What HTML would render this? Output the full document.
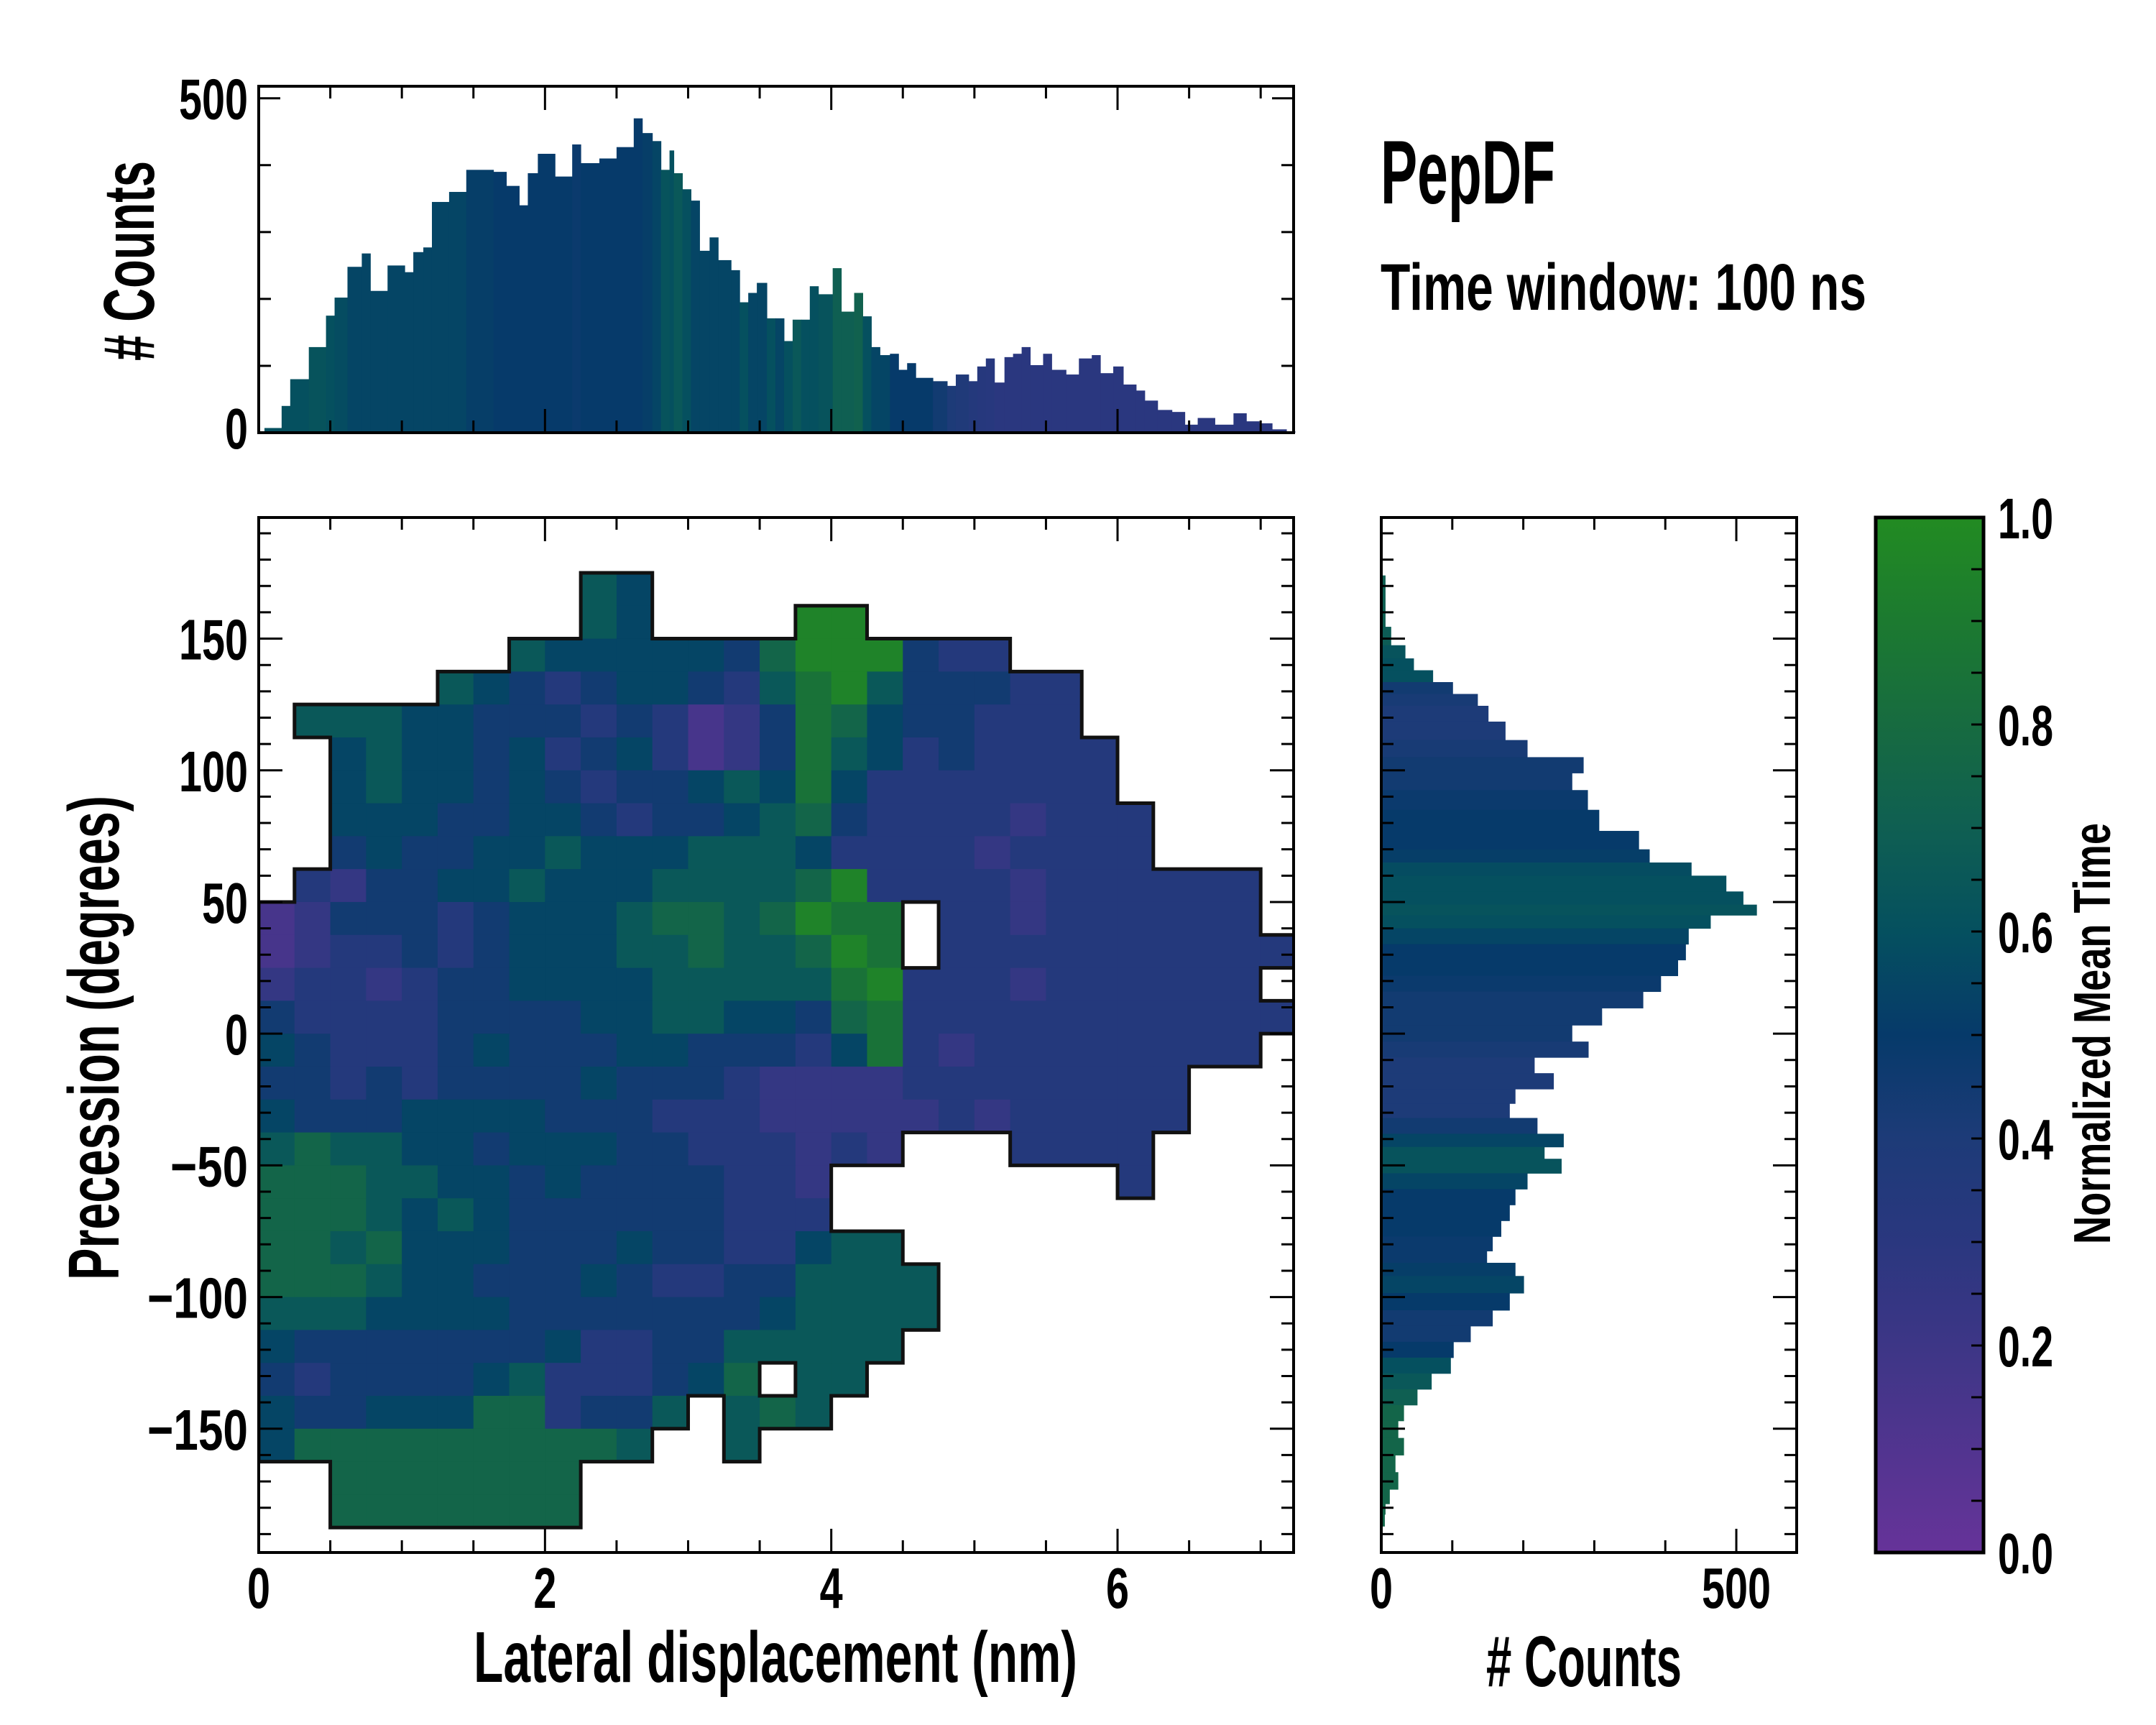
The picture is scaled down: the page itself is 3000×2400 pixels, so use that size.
<!DOCTYPE html>
<html><head><meta charset="utf-8"><style>
html,body{margin:0;padding:0;background:#fff;}
svg{display:block;}
text{font-family:"Liberation Sans Narrow","Liberation Sans",sans-serif;font-weight:bold;fill:#000;}
</style></head><body>
<svg id="fig" xmlns="http://www.w3.org/2000/svg" width="3000" height="2400" viewBox="0 0 3000 2400">
<defs>
<clipPath id="mainclip"><rect x="360" y="720" width="1440" height="1440"/></clipPath>
<linearGradient id="cbgrad" x1="0" y1="1" x2="0" y2="0">
<stop offset="0" stop-color="#663399"/><stop offset="0.2" stop-color="#3d3686"/><stop offset="0.3" stop-color="#2a377f"/><stop offset="0.4" stop-color="#1d3b78"/><stop offset="0.5" stop-color="#063a6a"/><stop offset="0.6" stop-color="#05505f"/><stop offset="0.7" stop-color="#0f5f52"/><stop offset="0.8" stop-color="#176b40"/><stop offset="0.9" stop-color="#1c7a30"/><stop offset="1" stop-color="#228b22"/>
</linearGradient>
</defs>
<text x="1921" y="283" font-size="125" textLength="243" lengthAdjust="spacingAndGlyphs">PepDF</text>
<text x="1921" y="431" font-size="92" textLength="676" lengthAdjust="spacingAndGlyphs">Time window: 100 ns</text>
<g id="g"></g>
</svg>
<script>
// ---------- data ----------
const topEdges=[0.04,0.16,0.22,0.35,0.47,0.53,0.62,0.72,0.78,0.90,1.02,1.08,1.15,1.21,1.33,1.45,1.64,1.73,1.82,1.88,1.95,2.07,2.19,2.25,2.38,2.50,2.62,2.68,2.75,2.81,2.87,2.90,2.96,3.02,3.08,3.15,3.21,3.30,3.36,3.42,3.48,3.55,3.61,3.67,3.73,3.79,3.85,3.91,4.01,4.07,4.16,4.22,4.28,4.34,4.41,4.47,4.53,4.59,4.71,4.81,4.87,4.96,5.02,5.08,5.14,5.21,5.27,5.33,5.39,5.48,5.54,5.64,5.73,5.82,5.88,5.97,6.04,6.13,6.19,6.28,6.38,6.47,6.56,6.68,6.81,6.90,6.99,7.08,7.18];
const topCounts=[7,40,80,128,175,202,248,268,212,250,240,270,277,345,360,393,390,369,340,388,417,383,431,403,410,427,470,448,436,393,422,388,364,347,272,292,258,243,195,209,224,171,171,137,169,169,219,207,246,181,209,174,128,116,118,94,104,82,77,70,87,77,99,111,75,113,118,128,101,118,94,87,111,116,89,99,72,63,48,34,31,12,22,12,29,17,14,5,2];
const topColors=[0.6,0.6,0.6,0.62,0.6,0.58,0.55,0.55,0.55,0.55,0.55,0.55,0.55,0.55,0.55,0.52,0.5,0.5,0.5,0.5,0.5,0.5,0.48,0.5,0.5,0.5,0.5,0.52,0.55,0.62,0.6,0.65,0.6,0.55,0.55,0.55,0.55,0.55,0.6,0.55,0.55,0.6,0.55,0.6,0.65,0.6,0.6,0.62,0.7,0.7,0.72,0.6,0.55,0.55,0.5,0.5,0.5,0.5,0.45,0.4,0.38,0.35,0.33,0.32,0.3,0.3,0.3,0.3,0.3,0.3,0.3,0.3,0.3,0.3,0.3,0.3,0.3,0.3,0.3,0.3,0.3,0.3,0.3,0.3,0.3,0.3,0.3,0.3,0.3];
const rhDeg=[171,159,150,145,140,136,131,127,122,115,108,102,96,89,81,73,67,63,57,51,47,43,37,31,25,19,13,6.5,0,-6,-12,-18,-24,-29,-35,-41,-45,-50,-56,-62,-68,-74,-80,-85,-89,-95,-102,-108,-114,-120,-126,-132,-138,-144,-150,-157,-163,-170,-176,-181,-184];
const rhCounts=[6,6,14,34,46,73,101,136,151,175,206,285,269,291,307,363,378,437,486,510,529,464,433,429,418,394,369,311,269,292,216,243,189,181,220,257,230,254,206,189,181,169,157,149,189,201,181,157,126,102,98,71,51,32,24,32,20,24,12,6,5];
const rhColors=[0.7,0.7,0.68,0.62,0.6,0.6,0.45,0.42,0.4,0.4,0.42,0.45,0.45,0.48,0.5,0.5,0.52,0.58,0.6,0.6,0.62,0.6,0.55,0.5,0.5,0.48,0.45,0.45,0.45,0.42,0.4,0.4,0.4,0.4,0.45,0.55,0.62,0.62,0.55,0.5,0.5,0.5,0.48,0.48,0.52,0.55,0.5,0.45,0.45,0.5,0.6,0.65,0.7,0.75,0.75,0.75,0.75,0.75,0.75,0.75,0.75];
// heatmap: rows from 200 deg downward in 12.5 deg steps, cols 0.25 nm; digit = mean time bin (0-9), '.' = empty
const heatRows=[
".............................",
".............................",
".........65..................",
".........65....99............",
".......65555547999433........",
".....654345543689644433......",
".6665544434312487544333......",
"..5655453453124865343333.....",
"..5655454344565853333333.....",
"..55544554344567433332333....",
"..45445565556665333323333....",
".324455655566667933332333333.",
"124443455567767988.332333333.",
"123343455566766798.3333333333",
"2332344555566666893332333333.",
"43333444455665547833333333333",
"5433345444554443583233333333.",
"44343444454443222233333333...",
"54445555444333222223233333...",
"676655455544333232...3333...",
"7776655454444332........3....",
"7776565444444333.............",
"776755544454433566...........",
"7776554445433446666..........",
"6665555444444456666..........",
"544444445334466666...........",
"43444456333457.66............",
"544555773446.676.............",
"57777777776..6...............",
"..7777777....................",
"..7777777....................",
"............................."];
const heatX0=0, heatDX=0.25, heatY0=200, heatDY=12.5;
const xTicksMain=[0,2,4,6];
const yTicksMain=[150,100,50,0,-50,-100,-150];
const cbTicks=[0,0.2,0.4,0.6,0.8,1.0];

// ---------- scales ----------
const X0=360,X1=1800,XMAX=7.23; const sx=v=>X0+v/XMAX*(X1-X0);
const Y0=720,Y1=2160,YMIN=-197,YMAXD=196; const sy=v=>Y1-(v-YMIN)/(YMAXD-YMIN)*(Y1-Y0);
const TH_T=120,TH_B=602,TH_MAX=518; const sty=v=>TH_B-v/TH_MAX*(TH_B-TH_T);
const RH_L=1922,RH_R=2500,RH_MAX=585; const srx=v=>RH_L+v/RH_MAX*(RH_R-RH_L);
const CB_L=2610,CB_R=2760; const scb=v=>Y1-v*(Y1-Y0);

const stops=[[0,[0x66,0x33,0x99]],[0.2,[0x3d,0x36,0x86]],[0.3,[0x2a,0x37,0x7f]],[0.4,[0x1d,0x3b,0x78]],[0.5,[0x06,0x3a,0x6a]],[0.6,[0x05,0x50,0x5f]],[0.7,[0x0f,0x5f,0x52]],[0.8,[0x17,0x6b,0x40]],[0.9,[0x1c,0x7a,0x30]],[1,[0x22,0x8b,0x22]]];
function cmap(v){v=Math.max(0,Math.min(1,v));for(let i=1;i<stops.length;i++){if(v<=stops[i][0]){const a=stops[i-1],b=stops[i],t=(v-a[0])/(b[0]-a[0]);const c=a[1].map((x,k)=>Math.round(x+(b[1][k]-x)*t));return `rgb(${c[0]},${c[1]},${c[2]})`;}}return 'rgb(34,139,34)';}

const NS='http://www.w3.org/2000/svg';const root=document.getElementById('g');
function mk(tag,attrs,parent){const e=document.createElementNS(NS,tag);for(const k in attrs)e.setAttribute(k,attrs[k]);(parent||root).appendChild(e);return e;}
function lw(s){let w=0;for(const ch of s){w+= ch==='.'?13:(ch==='−'?44:32);}return w;}

// ---------- main heatmap ----------
const heatG=mk('g',{'clip-path':'url(#mainclip)'});


const occ=(r,c)=>r>=0&&r<heatRows.length&&c>=0&&c<heatRows[r].length&&heatRows[r][c]!=='.';
let edgeD='';
for(let r=0;r<heatRows.length;r++){for(let c=0;c<heatRows[r].length;c++){const ch=heatRows[r][c];if(ch==='.')continue;
 const v=(parseInt(ch)+0.5)/10;const xa=sx(heatX0+c*heatDX),xb=sx(heatX0+(c+1)*heatDX),ya=sy(heatY0-r*heatDY),yb=sy(heatY0-(r+1)*heatDY);
 const cell=mk('rect',{x:xa,y:ya,width:xb-xa+0.6,height:yb-ya+0.6,fill:cmap(v)},heatG);
 
 
 if(!occ(r-1,c))edgeD+=`M${xa},${ya}H${xb}`;if(!occ(r+1,c))edgeD+=`M${xa},${yb}H${xb}`;
 if(!occ(r,c-1))edgeD+=`M${xa},${ya}V${yb}`;if(!occ(r,c+1))edgeD+=`M${xb},${ya}V${yb}`;}}
const outline=mk('path',{d:edgeD,fill:'none',stroke:'#111',"stroke-width":5,"stroke-linecap":"square"},heatG);



function frame(x,y,w,h,name){const f=mk('rect',{x:x,y:y,width:w,height:h,fill:'none',stroke:'#000','stroke-width':4});}
function tick(x1,y1,x2,y2){const t=mk('line',{x1:x1,y1:y1,x2:x2,y2:y2,stroke:'#000','stroke-width':3});}
function label(x,y,s,anchor,name,fs){const t=mk('text',{x:x,y:y,'font-size':fs||80,'text-anchor':anchor,textLength:lw(s),lengthAdjust:'spacingAndGlyphs'});t.textContent=s;return t;}

frame(X0,Y0,X1-X0,Y1-Y0,'main-plot-frame');
for(let v=0.5;v<XMAX;v+=0.5){const x=sx(v),maj=Math.abs(v/2-Math.round(v/2))<1e-6;const L=maj?33:17;tick(x,Y1,x,Y1-L);tick(x,Y0,x,Y0+L);}
for(let v=-190;v<=190;v+=10){const y=sy(v),L=(v%50===0)?33:17;tick(X0,y,X0+L,y);tick(X1,y,X1-L,y);}
xTicksMain.forEach(v=>label(sx(v),2237,String(v),'middle','x-tick-label'));
yTicksMain.forEach(v=>label(345,sy(v)+29,(v<0?'−':'')+Math.abs(v),'end','y-tick-label'));
{const t=mk('text',{x:1079,y:2340,'font-size':100,'text-anchor':'middle',textLength:840,lengthAdjust:'spacingAndGlyphs'});t.textContent='Lateral displacement (nm)';}
{const t=mk('text',{x:0,y:0,'font-size':100,'text-anchor':'middle',textLength:674,lengthAdjust:'spacingAndGlyphs',transform:'translate(165,1444) rotate(-90)'});t.textContent='Precession (degrees)';}

// ---------- top histogram ----------
for(let i=0;i<topCounts.length;i++){const a=topEdges[i],b=(i+1<topEdges.length)?topEdges[i+1]:a+0.06;const xa=sx(a),xb=sx(b);
 const bar=mk('rect',{x:xa,y:sty(topCounts[i]),width:xb-xa+0.5,height:TH_B-sty(topCounts[i]),fill:cmap(topColors[i])});
 
 }
frame(X0,TH_T,X1-X0,TH_B-TH_T,'top-histogram-frame');
for(let v=0.5;v<XMAX;v+=0.5){const x=sx(v),maj=Math.abs(v/2-Math.round(v/2))<1e-6;const L=maj?33:17;tick(x,TH_B,x,TH_B-L);tick(x,TH_T,x,TH_T+L);}
for(let v=100;v<=500;v+=100){const y=sty(v),L=(v===500)?30:17;tick(X0,y,X0+L,y);tick(X1,y,X1-L,y);}
label(345,sty(500)+29,'500','end','top-y-tick-label');
label(345,sty(0)+22,'0','end','top-y-tick-label');
{const t=mk('text',{x:0,y:0,'font-size':100,'text-anchor':'middle',textLength:278,lengthAdjust:'spacingAndGlyphs',transform:'translate(214,363) rotate(-90)'});t.textContent='# Counts';}

// ---------- right histogram ----------
for(let i=0;i<rhCounts.length;i++){const up=i>0?(rhDeg[i-1]+rhDeg[i])/2:rhDeg[i]+3;const dn=i<rhDeg.length-1?(rhDeg[i]+rhDeg[i+1])/2:rhDeg[i]-3;
 const bar=mk('rect',{x:RH_L,y:sy(up),width:srx(rhCounts[i])-RH_L,height:sy(dn)-sy(up)+0.5,fill:cmap(rhColors[i])});
 
 }
frame(RH_L,Y0,RH_R-RH_L,Y1-Y0,'right-histogram-frame');
for(let v=100;v<RH_MAX;v+=100){const x=srx(v),L=(v===500)?33:17;tick(x,Y1,x,Y1-L);tick(x,Y0,x,Y0+L);}
for(let v=-190;v<=190;v+=10){const y=sy(v),L=(v%50===0)?33:17;tick(RH_L,y,RH_L+L,y);tick(RH_R,y,RH_R-L,y);}
label(RH_L,2237,'0','middle','right-x-tick-label');
label(srx(500),2237,'500','middle','right-x-tick-label');
{const t=mk('text',{x:2204,y:2346,'font-size':100,'text-anchor':'middle',textLength:272,lengthAdjust:'spacingAndGlyphs'});t.textContent='# Counts';}

// ---------- colorbar ----------
{const cb=mk('rect',{x:CB_L,y:Y0,width:CB_R-CB_L,height:Y1-Y0,fill:'url(#cbgrad)',stroke:'#000','stroke-width':5});}
for(let v=0.05;v<1;v+=0.05){const y=scb(v);tick(CB_R,y,CB_R-17,y);}
cbTicks.forEach(v=>label(2780,scb(v)+29,v.toFixed(1),'start','colorbar-tick-label'));
{const t=mk('text',{x:0,y:0,'font-size':72,'text-anchor':'middle',textLength:586,lengthAdjust:'spacingAndGlyphs',transform:'translate(2936,1438) rotate(-90)'});t.textContent='Normalized Mean Time';}
</script>
</body></html>
